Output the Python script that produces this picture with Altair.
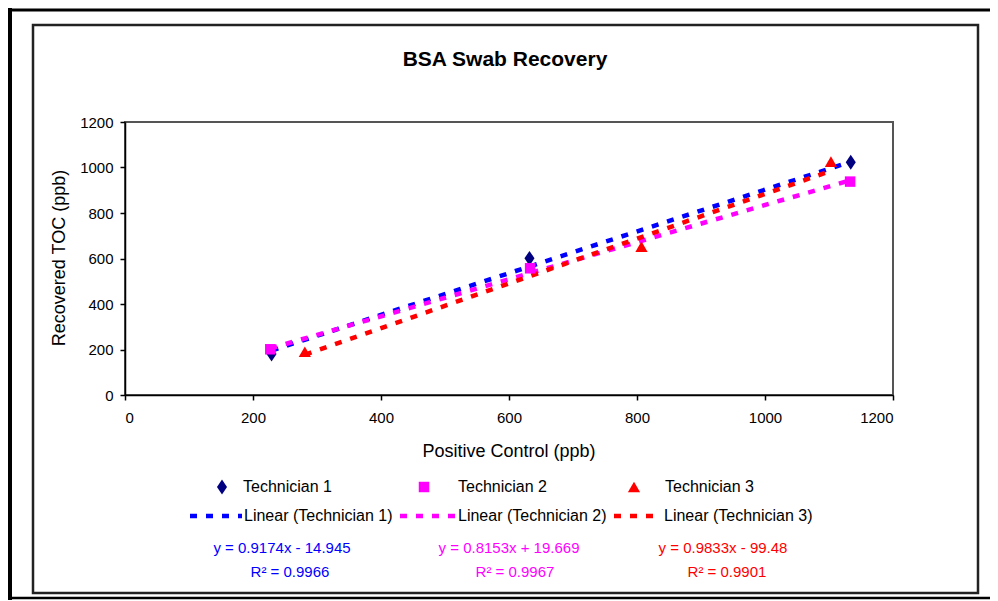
import altair as alt
import pandas as pd

# ---------------- data ----------------
techs = ["Technician 1", "Technician 2", "Technician 3"]
t1_x = [229, 632, 1134]
t1_y = [180, 601, 1023]
t2_x = [227, 633, 1133]
t2_y = [201, 557, 938]
t3_x = [281, 807, 1103]
t3_y = [190, 652, 1026]
slopes = [0.9174, 0.8153, 0.9833]
intercepts = [-14.945, 19.669, -99.48]
eq_labels = ["y = 0.9174x - 14.945", "y = 0.8153x + 19.669", "y = 0.9833x - 99.48"]
r2_labels = ["R\u00b2 = 0.9966", "R\u00b2 = 0.9967", "R\u00b2 = 0.9901"]
axis_ticks = [0, 200, 400, 600, 800, 1000, 1200]

marker_colors = ["#000080", "#FF00FF", "#FF0000"]
line_colors = ["#0000FF", "#FF00FF", "#FF0000"]
DIAMOND = "M0,-1.25L0.85,0L0,1.25L-0.85,0Z"
shapes = [DIAMOND, "square", "triangle-up"]
sizes = [140, 110, 150]

FONT = "Liberation Sans"
DASH = [7, 9]

xs = [t1_x, t2_x, t3_x]
ys = [t1_y, t2_y, t3_y]

pts_rows = []
line_rows = []
for i, t in enumerate(techs):
    for a, b in zip(xs[i], ys[i]):
        pts_rows.append({"tech": t, "x": a, "y": b, "col": marker_colors[i], "shape": shapes[i],
                         "sz": sizes[i]})
    for a in (min(xs[i]), max(xs[i])):
        line_rows.append({"tech": t, "x": a, "y": slopes[i] * a + intercepts[i], "col": line_colors[i]})
pts = pd.DataFrame(pts_rows)
lines_df = pd.DataFrame(line_rows)
dummy = pd.DataFrame({"d": [0]})

xaxis = alt.Axis(values=axis_ticks, format="d", grid=False, tickSize=5, tickColor="black",
                 domainColor="black", domainWidth=1.5, tickWidth=1.5, labelFont=FONT, labelFontSize=15,
                 labelColor="black", labelPadding=10, title=None)
yaxis = alt.Axis(values=axis_ticks, format="d", grid=False, tickSize=5, tickColor="black",
                 domainColor="black", domainWidth=1.5, tickWidth=1.5, labelFont=FONT, labelFontSize=15,
                 labelColor="black", labelPadding=7, title=None)
X = alt.X("x:Q", scale=alt.Scale(domain=[0, 1200], nice=False), axis=xaxis)
Y = alt.Y("y:Q", scale=alt.Scale(domain=[0, 1200], nice=False), axis=yaxis)

lines = alt.Chart(lines_df).mark_line(strokeWidth=4.5, strokeDash=DASH, strokeCap="butt").encode(
    x=X, y=Y, color=alt.Color("col:N", scale=None), detail="tech:N")
points = alt.Chart(pts).mark_point(filled=True, opacity=1).encode(
    x=X, y=Y, color=alt.Color("col:N", scale=None), shape=alt.Shape("shape:N", scale=None),
    size=alt.Size("sz:Q", scale=None))


def text_at(txt, x, y, size=16, color="black", align="left", weight="normal", angle=0):
    return alt.Chart(dummy).mark_text(text=txt, fontSize=size, font=FONT, color=color, align=align,
                                      baseline="middle", fontWeight=weight, angle=angle).encode(
        x=alt.value(x), y=alt.value(y))


def hrule(x1, x2, y, color="black", width=2, dash=None):
    kw = dict(color=color, strokeWidth=width, strokeCap="butt")
    if dash:
        kw["strokeDash"] = dash
    return alt.Chart(dummy).mark_rule(**kw).encode(x=alt.value(x1), x2=alt.value(x2), y=alt.value(y))


def vrule(x, y1, y2, color="black", width=2):
    return alt.Chart(dummy).mark_rule(color=color, strokeWidth=width, strokeCap="butt").encode(
        x=alt.value(x), y=alt.value(y1), y2=alt.value(y2))


def symbol(shape, x, y, color, size=110):
    return alt.Chart(dummy).mark_point(shape=shape, filled=True, size=size, color=color, opacity=1).encode(
        x=alt.value(x), y=alt.value(y))


# frame decorations (pixel positions relative to plot origin)
inner_box = alt.Chart(dummy).mark_rect(fillOpacity=0, stroke="#222222", strokeWidth=2.5).encode(
    x=alt.value(-92), x2=alt.value(853), y=alt.value(-97), y2=alt.value(471))
outer_left = vrule(-115, -114, 478, width=4)
outer_top = hrule(-117, 865, -112, width=3)
outer_bottom = hrule(-117, 865, 476, width=2.5)

layers = [inner_box, outer_left, outer_top, outer_bottom, lines, points]

layers.append(text_at("BSA Swab Recovery", 380, -62, size=21, align="center", weight="bold"))
layers.append(text_at("Positive Control (ppb)", 384, 330, size=18, align="center"))
layers.append(text_at("Recovered  TOC (ppb)", -65, 136, size=18, align="center", angle=270))

# legend rows
sym_x = [97, 299, 509]
lab_x = [118, 333, 540]
dash_x = [(65, 117), (275, 330), (489, 537)]
dlab_x = [119, 333, 539]
eq_x = [157, 384, 598]
r2_x = [165, 390, 602]
for i, t in enumerate(techs):
    layers.append(symbol(shapes[i], sym_x[i], 365, marker_colors[i], size=sizes[i]))
    layers.append(text_at(t, lab_x[i], 365))
    layers.append(hrule(dash_x[i][0], dash_x[i][1], 394, color=line_colors[i], width=4.5, dash=DASH))
    layers.append(text_at("Linear (" + t + ")", dlab_x[i], 394))
    layers.append(text_at(eq_labels[i], eq_x[i], 426, size=15, color=line_colors[i], align="center"))
    layers.append(text_at(r2_labels[i], r2_x[i], 450, size=15, color=line_colors[i], align="center"))

chart = alt.layer(*layers).properties(
    width=768, height=273,
    padding={"left": 117, "top": 114, "right": 97, "bottom": 205},
    autosize=alt.AutoSizeParams(type="none"),
).configure_view(stroke="#555555", strokeWidth=2)

chart.save("out.html", embed_options={"renderer": "svg", "actions": False})
